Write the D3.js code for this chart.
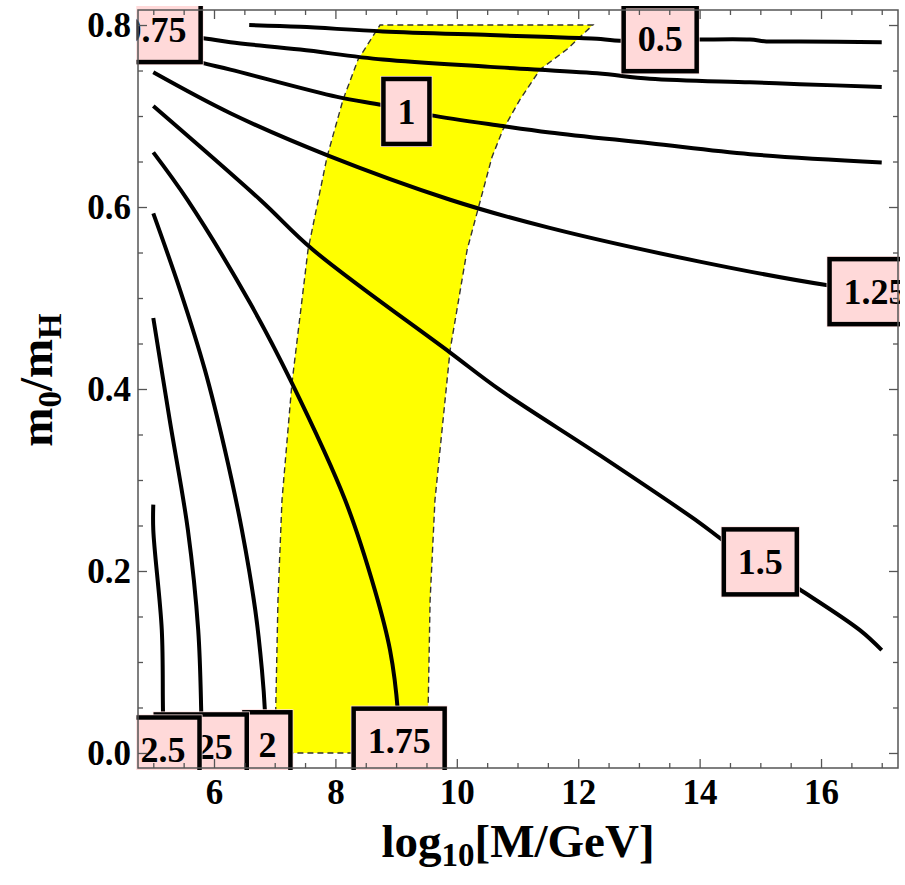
<!DOCTYPE html>
<html>
<head>
<meta charset="utf-8">
<script src="https://cdn.jsdelivr.net/npm/d3@7"></script>
<style>
  body { margin: 0; background: #fff; }
  svg { display: block; }
</style>
</head>
<body>
<svg id="chart" width="905" height="885"></svg>
<script>
// ---- contour levels and their printed labels ----
const levels     = [0.5, 0.75, 1, 1.25, 1.5, 1.75, 2, 2.25, 2.5];
const levelText  = ["0.5", "0.75", "1", "1.25", "1.5", "1.75", "2", "2.25", "2.5"];

// ---- contour lines: [log10(M/GeV), m0/mH] ----
const contour050 = [[6.58,0.800],[7.42,0.798],[8.78,0.793],[10.55,0.789],[11.42,0.787],[12.31,0.785],[12.6,0.783],[13.96,0.784],[14.83,0.784],[15.1,0.782],[15.65,0.782],[17.0,0.781]];
const contour075 = [[5.0,0.790],[5.77,0.786],[6.27,0.781],[7.42,0.773],[8.78,0.762],[10.55,0.754],[12.31,0.747],[13.18,0.741],[14.83,0.737],[15.65,0.735],[17.0,0.732]];
const contour100 = [[5.0,0.774],[5.77,0.759],[6.27,0.751],[8.03,0.721],[8.78,0.712],[9.56,0.701],[10.76,0.689],[11.53,0.682],[13.18,0.670],[14.83,0.658],[17.0,0.649]];
const contour125 = [[5.0,0.748],[6.27,0.703],[7.86,0.657],[9.89,0.608],[11.53,0.577],[14.0,0.540],[16.11,0.514],[17.0,0.507]];
const contour150 = [[5.0,0.711],[6.76,0.608],[7.63,0.553],[9.89,0.440],[10.71,0.399],[12.36,0.327],[14.0,0.253],[14.38,0.234],[15.62,0.181],[16.64,0.135],[17.0,0.113]];
const contour175 = [[5.0,0.660],[5.56,0.608],[6.59,0.495],[7.28,0.407],[8.16,0.278],[8.65,0.179],[8.90,0.113],[9.03,0.045],[9.05,0.0]];
const contour200 = [[5.0,0.593],[5.44,0.509],[5.85,0.421],[6.18,0.333],[6.46,0.245],[6.68,0.157],[6.79,0.091],[6.84,0.045],[6.86,0.0]];
const contour225 = [[5.0,0.478],[5.27,0.366],[5.57,0.245],[5.74,0.135],[5.79,0.045],[5.80,0.0]];
const contour250 = [[5.0,0.273],[5.0,0.245],[5.14,0.135],[5.16,0.045],[5.18,0.0]];
const contours = [contour050, contour075, contour100, contour125, contour150,
                  contour175, contour200, contour225, contour250];

// ---- label anchor for each contour: [x, y] ----
const labelAt = [[13.35,0.785],[5.03,0.795],[9.17,0.705],[16.89,0.507],[15.0,0.210],
                 [9.05,0.013],[6.88,0.009],[5.79,0.0066],[5.16,0.0033]];

// ---- allowed band (left and right edges, bottom to top) ----
const bandLeft  = [[7.005,0.0],[7.02,0.058],[7.054,0.168],[7.12,0.278],[7.285,0.407],[7.549,0.553],[7.862,0.655],[8.126,0.718],[8.373,0.762],[8.735,0.8]];
const bandRight = [[9.51,0.0],[9.53,0.058],[9.56,0.168],[9.64,0.278],[9.89,0.443],[10.17,0.553],[10.58,0.655],[10.76,0.685],[11.04,0.718],[11.37,0.751],[11.81,0.773],[12.24,0.8]];

// ---- axis ticks ----
const xTicks = [6, 8, 10, 12, 14, 16];
const xMinor = [5, 5.5, 6.5, 7, 7.5, 8.5, 9, 9.5, 10.5, 11, 11.5, 12.5, 13, 13.5, 14.5, 15, 15.5, 16.5, 17];
const yTicks = [0, 0.2, 0.4, 0.6, 0.8];
const yMinor = [0.05, 0.1, 0.15, 0.25, 0.3, 0.35, 0.45, 0.5, 0.55, 0.65, 0.7, 0.75];

const serif = "'Liberation Serif', 'Times New Roman', Times, serif";
const svg = d3.select("#chart");

const frame = { left: 138, right: 898, top: 10, bottom: 768 };
const x = d3.scaleLinear().domain([4.748, 17.268]).range([frame.left, frame.right]);
const y = d3.scaleLinear().domain([-0.0165, 0.8165]).range([frame.bottom, frame.top]);

// clip for label boxes (slightly wider than the frame)
svg.append("defs").append("clipPath").attr("id", "labelClip")
  .append("rect")
  .attr("x", frame.left - 1.5).attr("y", frame.top - 4)
  .attr("width", frame.right - frame.left + 3.5)
  .attr("height", frame.bottom - frame.top + 6);

// ---- yellow band ----
const bandPoly = bandLeft.concat(bandRight.slice().reverse());
const bandLine = d3.line().x(d => x(d[0])).y(d => y(d[1])).curve(d3.curveLinearClosed);
svg.append("path")
  .attr("d", bandLine(bandPoly))
  .attr("fill", "#ffff00")
  .attr("stroke", "#333")
  .attr("stroke-width", 1.4)
  .attr("stroke-dasharray", "6,4");

// ---- contour lines ----
const line = d3.line().x(d => x(d[0])).y(d => y(d[1])).curve(d3.curveCatmullRom.alpha(0.5));
svg.append("g").selectAll("path")
  .data(contours)
  .join("path")
  .attr("d", d => line(d))
  .attr("fill", "none")
  .attr("stroke", "#000")
  .attr("stroke-width", 4)
  .attr("stroke-linejoin", "round");

// ---- contour labels ----
const fs = 36;
const labG = svg.append("g").attr("clip-path", "url(#labelClip)");
levels.forEach((lv, i) => {
  const cx = x(labelAt[i][0]), cy = y(labelAt[i][1]);
  const g = labG.append("g");
  const halo = g.append("rect");
  const box = g.append("rect");
  const t = g.append("text")
    .attr("x", cx).attr("y", cy + 0.34 * fs)
    .attr("text-anchor", "middle")
    .attr("font-family", serif).attr("font-weight", "bold")
    .attr("font-size", fs).attr("fill", "#000")
    .text(levelText[i]);
  const w = t.node().getComputedTextLength() + 28;
  const h = 65;
  halo.attr("x", cx - w / 2 - 3).attr("y", cy - h / 2 - 3)
    .attr("width", w + 6).attr("height", h + 6)
    .attr("fill", "#ffe0e0");
  box.attr("x", cx - w / 2).attr("y", cy - h / 2)
    .attr("width", w).attr("height", h)
    .attr("fill", "#ffd9d9").attr("stroke", "#000").attr("stroke-width", 4.5);
  t.raise();
});

// ---- axes: frame, ticks and labels ----
const axisColor = "#555";
function styleAxis(g) {
  g.select(".domain").remove();
  g.selectAll(".tick line").attr("stroke", axisColor).attr("stroke-width", 1.3);
  g.selectAll("text").attr("font-family", serif).attr("font-weight", "bold")
    .attr("font-size", 35).attr("fill", "#000");
}

svg.append("g").attr("transform", `translate(0,${frame.bottom})`)
  .call(d3.axisBottom(x).tickValues(xTicks).tickSize(-9).tickPadding(11).tickFormat(d3.format("d")))
  .call(styleAxis);
svg.append("g").attr("transform", `translate(0,${frame.bottom})`)
  .call(d3.axisBottom(x).tickValues(xMinor).tickSize(-5).tickFormat(""))
  .call(styleAxis);
svg.append("g").attr("transform", `translate(0,${frame.top})`)
  .call(d3.axisTop(x).tickValues(xTicks).tickSize(-9).tickFormat(""))
  .call(styleAxis);
svg.append("g").attr("transform", `translate(0,${frame.top})`)
  .call(d3.axisTop(x).tickValues(xMinor).tickSize(-5).tickFormat(""))
  .call(styleAxis);

svg.append("g").attr("transform", `translate(${frame.left},0)`)
  .call(d3.axisLeft(y).tickValues(yTicks).tickSize(-9).tickPadding(7).tickFormat(d3.format(".1f")))
  .call(styleAxis);
svg.append("g").attr("transform", `translate(${frame.left},0)`)
  .call(d3.axisLeft(y).tickValues(yMinor).tickSize(-5).tickFormat(""))
  .call(styleAxis);
svg.append("g").attr("transform", `translate(${frame.right},0)`)
  .call(d3.axisRight(y).tickValues(yTicks).tickSize(-9).tickFormat(""))
  .call(styleAxis);
svg.append("g").attr("transform", `translate(${frame.right},0)`)
  .call(d3.axisRight(y).tickValues(yMinor).tickSize(-5).tickFormat(""))
  .call(styleAxis);

svg.append("rect")
  .attr("x", frame.left).attr("y", frame.top)
  .attr("width", frame.right - frame.left).attr("height", frame.bottom - frame.top)
  .attr("fill", "none").attr("stroke", axisColor).attr("stroke-width", 1.5);

// ---- axis titles ----
const xt = svg.append("text")
  .attr("x", (frame.left + frame.right) / 2).attr("y", 857)
  .attr("text-anchor", "middle")
  .attr("font-family", serif).attr("font-weight", "bold").attr("font-size", 47).attr("fill", "#000");
xt.append("tspan").text("log");
xt.append("tspan").attr("font-size", 33).attr("dy", 9).text("10");
xt.append("tspan").attr("dy", -9).text("[M/GeV]");

const yt = svg.append("text")
  .attr("transform", `translate(52,380) rotate(-90)`)
  .attr("text-anchor", "middle")
  .attr("font-family", serif).attr("font-weight", "bold").attr("font-size", 47).attr("fill", "#000");
yt.append("tspan").text("m");
yt.append("tspan").attr("font-size", 33).attr("dy", 9).text("0");
yt.append("tspan").attr("dy", -9).text("/m");
yt.append("tspan").attr("font-size", 33).attr("dy", 9).text("H");
</script>
</body>
</html>
